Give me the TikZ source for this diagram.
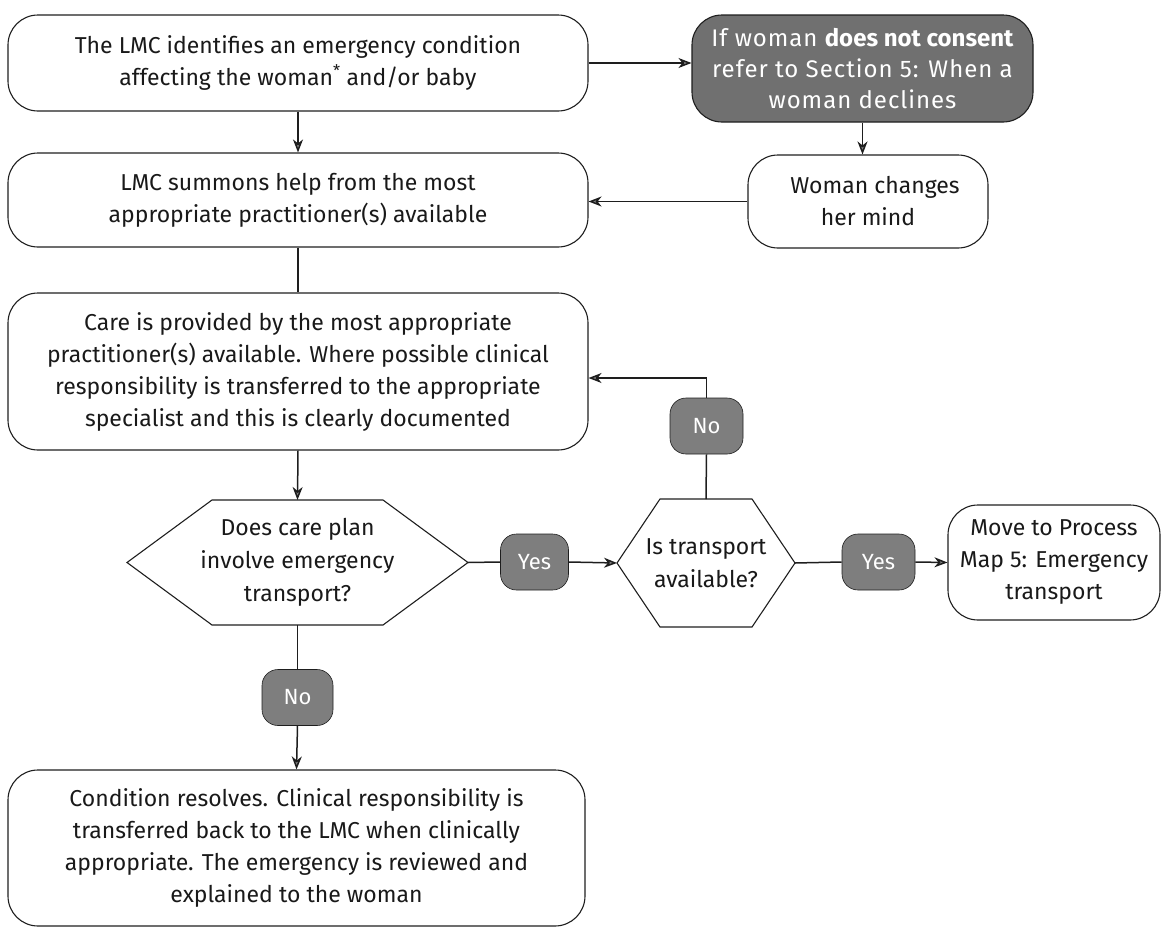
\documentclass[tikz,border=0pt]{standalone}
\usepackage{fontspec}
\setmainfont{Fira Sans}
\usetikzlibrary{arrows.meta,calc}
\definecolor{badgegray}{RGB}{126,126,126}
\definecolor{darkfill}{RGB}{112,112,112}
\definecolor{inkline}{RGB}{30,30,30}
\definecolor{tipgray}{RGB}{130,130,130}
\newcommand{\spaced}[1]{{\addfontfeature{LetterSpace=4}#1}}

\tikzset{
  box/.style={draw=inkline, line width=1.1pt, rounded corners=30pt, align=center,
    inner sep=0pt, font=\fontsize{23}{32}\selectfont, text=black!90},
  darkbox/.style={box, fill=darkfill, text=white, font=\fontsize{24}{31}\selectfont},
  qtext/.style={align=center, inner sep=0pt, font=\fontsize{23}{33}\selectfont, text=black!90},
  hexline/.style={draw=inkline, line width=1.1pt, line join=miter},
  badge/.style={fill=badgegray, draw=inkline, line width=0.6pt, rounded corners=16pt,
    text=white, font=\fontsize{22}{26}\selectfont, minimum height=56pt, inner sep=0pt},
  conn/.style={draw=inkline, line width=1.5pt},
  arr/.style={conn, -{Stealth[length=13pt, width=10pt, inset=4pt, fill=tipgray]}}
}

\begin{document}
\begin{tikzpicture}[x=1pt, y=-1pt]
\useasboundingbox (0,0) rectangle (1163,929);

% process boxes
\node[box, minimum width=580pt, minimum height=96pt] (b1) at (298,63)
  {The LMC identifies an emergency condition\\affecting the woman\textsuperscript{*} and/or baby};
\node[darkbox, minimum width=341pt, minimum height=107pt] (dark) at (862.5,68.5)
  {\spaced{If woman} \textbf{does not consent}\\\spaced{refer to Section 5: When a}\\\spaced{woman declines}};
\node[box, minimum width=580pt, minimum height=94pt] (b2) at (298,200)
  {LMC summons help from the most\\appropriate practitioner(s) available};
\node[box, minimum width=240pt, minimum height=93pt] (woman) at (868,201.5)
  {\hspace*{14pt}Woman changes\\her mind};
\node[box, minimum width=580pt, minimum height=157pt] (b3) at (298,371.5)
  {Care is provided by the most appropriate\\practitioner(s) available. Where possible clinical\\responsibility is transferred to the appropriate\\specialist and this is clearly documented};
\node[box, minimum width=212pt, minimum height=115pt] (moveb) at (1054,562.5)
  {Move to Process\\Map 5: Emergency\\transport};
\node[box, minimum width=577pt, minimum height=156pt] (endb) at (296.5,848)
  {Condition resolves. Clinical responsibility is\\transferred back to the LMC when clinically\\appropriate. The emergency is reviewed and\\explained to the woman};

% decision hexagons
\node[qtext] (q1) at (297.5,562.5) {Does care plan\\involve emergency\\transport?};
\coordinate (q1w) at ($(q1)+(-170.5,0)$);
\coordinate (q1e) at ($(q1)+(170.5,0)$);
\coordinate (q1n) at ($(q1)+(0,-62.5)$);
\coordinate (q1s) at ($(q1)+(0,62.5)$);
\draw[hexline] (q1w) -- ($(q1)+(-85.5,-62.5)$) -- ($(q1)+(85.5,-62.5)$) -- (q1e)
  -- ($(q1)+(85.5,62.5)$) -- ($(q1)+(-85.5,62.5)$) -- cycle;

\node[qtext] (q2) at (706,563) {Is transport\\available?};
\coordinate (q2w) at ($(q2)+(-89,0)$);
\coordinate (q2e) at ($(q2)+(89,0)$);
\coordinate (q2n) at ($(q2)+(0,-64)$);
\coordinate (q2s) at ($(q2)+(0,64)$);
\draw[hexline] (q2w) -- ($(q2)+(-46,-64)$) -- ($(q2)+(46,-64)$) -- (q2e)
  -- ($(q2)+(46,64)$) -- ($(q2)+(-46,64)$) -- cycle;

% answer badges
\node[badge, minimum width=68pt] (yes1) at (534.5,562) {Yes};
\node[badge, minimum width=73pt] (yes2) at (878.5,562) {Yes};
\node[badge, minimum width=73pt] (no1) at (706.5,426) {No};
\node[badge, minimum width=71pt] (no2) at (297.5,697.5) {No};
\coordinate (turn) at (706.5,378);

% connectors
\draw[arr] (b1.east) -- (b1.east -| dark.west);
\draw[arr] (b1.south) -- (b2.north);
\draw[arr] (dark.south) -- (dark.south |- woman.north);
\draw[arr] (woman.west) -- (woman.west -| b2.east);
\draw[conn] (b2.south) -- (b3.north);
\draw[arr] (b3.south) -- (q1n);
\draw[conn] (q1e) -- (yes1.west);
\draw[arr] (yes1.east) -- (q2w);
\draw[conn] (q2e) -- (yes2.west);
\draw[arr] (yes2.east) -- (moveb.west);
\draw[conn] (q2n) -- (no1.south);
\draw[arr] (no1.north) -- (turn) -- (turn -| b3.east);
\draw[conn] (q1s) -- (no2.north);
\draw[arr] (no2.south) -- (endb.north);
\end{tikzpicture}
\end{document}
